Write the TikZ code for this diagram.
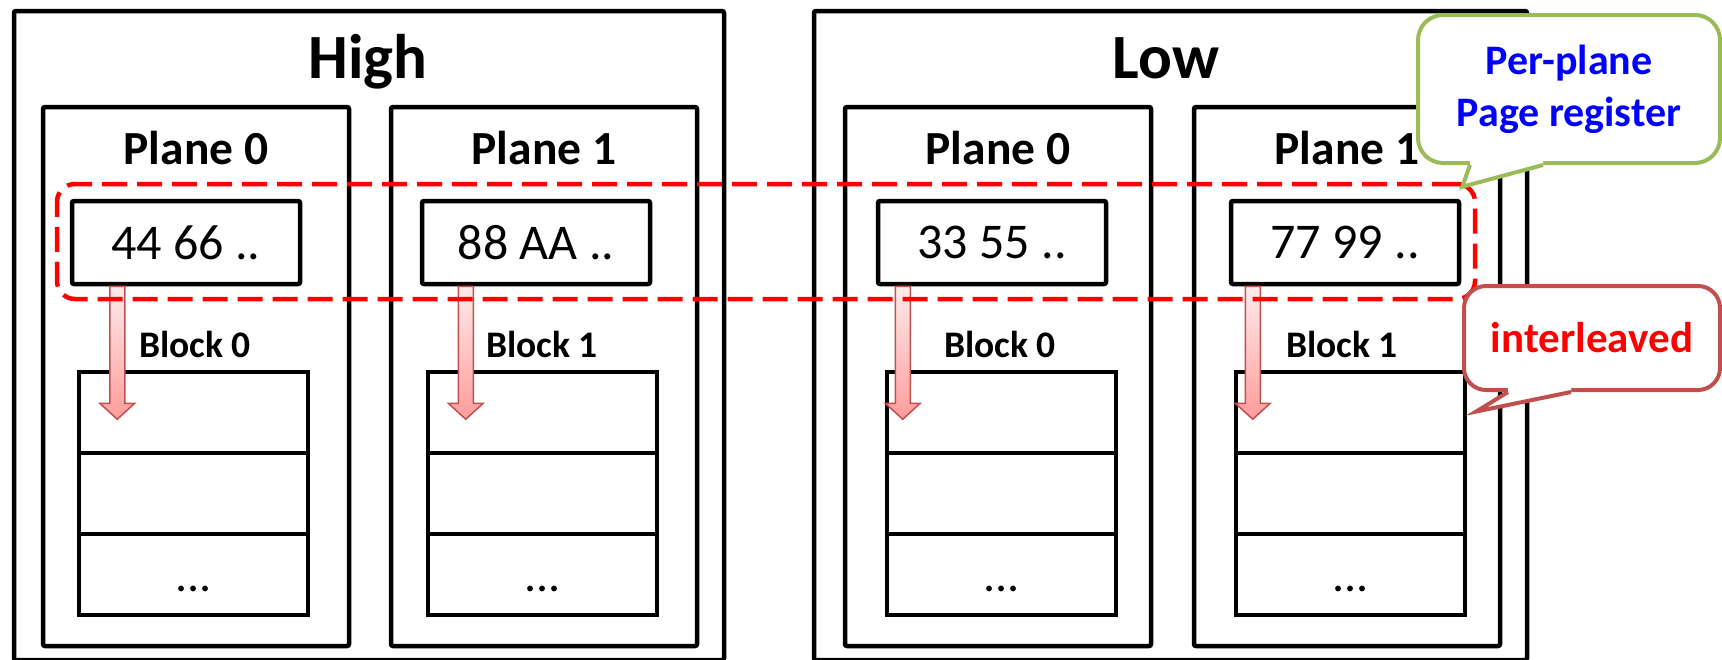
\documentclass[tikz,border=0pt]{standalone}
\usepackage{fontspec}
\setmainfont{Carlito}
\usetikzlibrary{calc}
\definecolor{notegreen}{HTML}{9BBB59}
\definecolor{notered}{HTML}{C0504D}
\definecolor{arrowtop}{HTML}{FFEAEA}
\definecolor{arrowbot}{HTML}{FF9C9C}
\definecolor{arrowedge}{HTML}{C0504D}
\definecolor{textblue}{HTML}{0000FF}
\definecolor{textred}{HTML}{FF0000}

\tikzset{
  frame/.style={draw=black, line width=4.5pt, rounded corners=2pt, inner sep=0pt},
  groupbox/.style={frame, minimum height=649pt},
  planebox/.style={frame, minimum width=306pt, minimum height=539pt},
  regbox/.style={frame, minimum width=228pt, minimum height=83pt,
    font=\fontsize{50}{60}\selectfont},
  blockrow/.style={draw=black, line width=4.5pt, inner sep=0pt,
    minimum width=229pt, minimum height=81pt},
  dotstext/.style={anchor=base, inner sep=0pt, font=\fontsize{48}{58}\selectfont},
  titletext/.style={anchor=base, inner sep=0pt, font=\fontsize{63}{76}\selectfont\bfseries},
  planetext/.style={anchor=base, inner sep=0pt, font=\fontsize{47.5}{57}\selectfont\bfseries},
  blocktext/.style={anchor=base, inner sep=0pt, font=\fontsize{37.5}{45}\selectfont\bfseries},
  arrowbody/.style={top color=arrowtop, bottom color=arrowbot, draw=arrowedge,
    line width=1.5pt, line join=miter},
  pagegroup/.style={draw=textred, line width=4.5pt, dash pattern=on 25pt off 10pt,
    rounded corners=18pt, minimum width=1418pt, minimum height=115pt, inner sep=0pt},
  notebox/.style={fill=white, line width=4pt, inner sep=0pt, align=center},
}

% one plane: frame, label, page register, three block rows
\newcommand\plane[6]{% #1 name, #2 plane centre x, #3 register centre x,
  % #4 block centre x, #5 plane label, #6 register contents
  \node[planebox] (#1) at (#2,376.5) {};
  \node[planetext] (#1-label) at (#2,164) {#5};
  \node[regbox] (#1-reg) at (#3,242.5) {#6};
  \node[blockrow] (#1-row1) at (#4,412.5) {};
  \node[blockrow] (#1-row2) at (#4,493.5) {};
  \node[blockrow] (#1-row3) at (#4,574.5) {};
  \node[dotstext] (#1-dots) at (#4,591) {.{}.{}.};
}

% shaded arrow from a page register down into its block
\newcommand\regarrow[2]{% #1 register node, #2 offset from its left edge
  \coordinate (#1-src) at ($(#1.south west)+(#2,0)$);
  \path[arrowbody] ($(#1-src)+(-7.5,0)$) -- ($(#1-src)+(7.5,0)$)
    -- ($(#1-src)+(7.5,117)$) -- ($(#1-src)+(17.5,117)$)
    -- ($(#1-src)+(0,133)$) -- ($(#1-src)+(-17.5,117)$)
    -- ($(#1-src)+(-7.5,117)$) -- cycle;
}

\begin{document}
\begin{tikzpicture}[x=1pt,y=-1pt]
\useasboundingbox (0,0) rectangle (1722,659);

% two chip groups
\node[groupbox, minimum width=710pt] (high) at (369,335.5) {};
\node[groupbox, minimum width=713pt] (low) at (1170.5,335.5) {};
\node[titletext] (high-title) at (368,78) {High};
\node[titletext] (low-title) at (1166,78) {Low};

% planes
\plane{h0}{196}{186}{193.5}{Plane 0}{44 66 ..}
\plane{h1}{544}{536}{542.5}{Plane 1}{88 AA ..}
\plane{l0}{998}{992}{1001.5}{Plane 0}{33 55 ..}
\plane{l1}{1347}{1345}{1350.5}{Plane 1}{77 99 ..}

\node[blocktext] (h0-block) at (195,357) {Block 0};
\node[blocktext] (h1-block) at (542,357) {Block 1};
\node[blocktext] (l0-block) at (1000,357) {Block 0};
\node[blocktext] (l1-block) at (1342,357) {Block 1};

% register-to-block transfers
\regarrow{h0-reg}{47.5}
\regarrow{h1-reg}{46}
\regarrow{l0-reg}{27}
\regarrow{l1-reg}{24}

% page registers grouped across planes
\node[pagegroup] (regs) at (766,241.5) {};

% callout: per-plane page register
\node[notebox, draw=notegreen, rounded corners=25pt, minimum width=302pt,
  minimum height=148pt, text=textblue,
  font=\fontsize{42}{52}\selectfont\bfseries] (regnote) at (1569,89)
  {Per-plane\\Page register};
\coordinate (regnote-a) at ($(regnote.south west)+(54,0)$);
\coordinate (regnote-b) at ($(regnote.south west)+(127,0)$);
\coordinate (regnote-tip) at ($(regs.north east)+(-15,5)$);
\fill[white] (regnote-a) -- (regnote-tip) -- (regnote-b) -- ($(regnote-b)+(0,-6)$)
  -- ($(regnote-a)+(0,-6)$) -- cycle;
\draw[notegreen, line width=4pt, line join=miter] (regnote-a) -- (regnote-tip) -- (regnote-b);

% callout: interleaved
\node[notebox, draw=notered, rounded corners=22pt, minimum width=256pt,
  minimum height=104pt, text=textred,
  font=\fontsize{43}{52}\selectfont\bfseries] (ilnote) at (1592,338) {interleaved};
\coordinate (ilnote-a) at ($(ilnote.south west)+(46,0)$);
\coordinate (ilnote-b) at ($(ilnote.south west)+(109,0)$);
\coordinate (ilnote-tip) at ($(l1-row1.east)+(9,-1)$);
\fill[white] (ilnote-a) -- (ilnote-tip) -- (ilnote-b) -- ($(ilnote-b)+(0,-6)$)
  -- ($(ilnote-a)+(0,-6)$) -- cycle;
\draw[notered, line width=4pt, line join=miter] (ilnote-a) -- (ilnote-tip) -- (ilnote-b);
\end{tikzpicture}
\end{document}
